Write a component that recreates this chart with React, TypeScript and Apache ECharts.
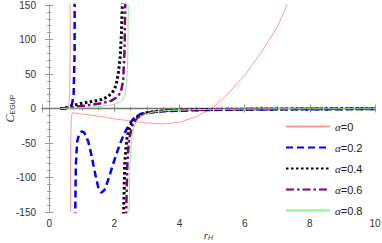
import React, { useEffect, useRef } from "react";
import * as echarts from "echarts";

// α = 0 (pink, thin solid)
const a0Left: [number, number][] = [[0.35, 0], [0.45, 0.3], [0.55, 1.5], [0.6, 5], [0.63, 20], [0.645, 80], [0.65, 400]];
const a0Right: [number, number][] = [[0.655, -400], [0.66, -60], [0.68, -12], [0.72, -6], [1.0, -8], [1.5, -11], [2.0, -15], [2.5, -18], [3.0, -21], [3.5, -22.5], [4.0, -20], [4.5, -12], [5.0, 0], [5.5, 22], [6.0, 48], [6.5, 81], [7.0, 118], [7.3, 150], [7.5, 180]];
// α = 0.2 (blue dashed)
const a2Left: [number, number][] = [[0.35, 0], [0.5, 0.5], [0.6, 2], [0.7, 6], [0.75, 20], [0.78, 80], [0.79, 400]];
const a2Right: [number, number][] = [[0.795, -400], [0.8, -150], [0.82, -80], [0.86, -48], [0.92, -37], [1.0, -33], [1.08, -35], [1.2, -48], [1.3, -68], [1.4, -92], [1.5, -113], [1.6, -122], [1.7, -118], [1.8, -105], [1.9, -90], [2.0, -75], [2.1, -61], [2.2, -48], [2.3, -37], [2.4, -28], [2.5, -20], [2.6, -14], [2.8, -8], [3.0, -6], [3.5, -4], [4.5, -2.5], [5.5, -1.7], [7, -1.2], [10, -0.8]];
// α = 0.4 (black dotted)
const a4Left: [number, number][] = [[0.35, 0], [0.5, 0.8], [0.6, 2], [0.8, 5], [1.0, 7.5], [1.3, 10], [1.6, 13], [1.8, 17], [1.95, 24], [2.05, 33], [2.12, 50], [2.18, 75], [2.22, 110], [2.25, 160], [2.265, 400]];
const a4Right: [number, number][] = [[2.27, -400], [2.285, -150], [2.32, -80], [2.38, -45], [2.45, -30], [2.55, -20], [2.7, -12], [2.9, -7], [3.2, -4.5], [3.6, -3], [4.2, -2], [5, -1.3], [7, -0.7], [10, -0.4]];
// α = 0.6 (purple dash-dot)
const a6Left: [number, number][] = [[0.35, 0], [0.6, 1], [0.8, 2], [1.0, 3.5], [1.3, 5.5], [1.6, 7.5], [1.9, 11], [2.1, 17], [2.2, 24], [2.27, 40], [2.31, 80], [2.335, 150], [2.35, 400]];
const a6Right: [number, number][] = [[2.355, -400], [2.365, -150], [2.4, -80], [2.45, -45], [2.55, -25], [2.7, -14], [2.9, -8], [3.2, -5], [3.6, -3], [4.2, -2], [5, -1.2], [7, -0.6], [10, -0.3]];
// α = 0.8 (light green thin)
const a8Left: [number, number][] = [[0.35, 0], [0.8, 0.8], [1.2, 1.8], [1.6, 3], [2.0, 6], [2.2, 10], [2.32, 18], [2.38, 35], [2.41, 70], [2.425, 130], [2.435, 400]];
const a8Right: [number, number][] = [[2.44, -400], [2.45, -150], [2.48, -80], [2.53, -45], [2.6, -28], [2.7, -17], [2.9, -9], [3.2, -5], [3.6, -3], [4.2, -2], [5, -1.1], [7, -0.5], [10, -0.3]];

const seriesNames = ["α=0", "α=0.2", "α=0.4", "α=0.6", "α=0.8"];
const xMin = -0.22;
const xMax = 10;
const yMin = -150;
const yMax = 150;
const zeroLine: [number, number][] = [[xMin, 0], [xMax, 0]];

function joinBranches(l: [number, number][], r: [number, number][]) {
  const gapX = (l[l.length - 1][0] + r[0][0]) / 2;
  return [...l, [gapX, "-"], ...r];
}

export default function App() {
  const ref = useRef<HTMLDivElement>(null);
  useEffect(() => {
    if (!ref.current) return;
    const chart = echarts.init(ref.current, undefined, { renderer: "svg" });
    const axisColor = "#999";
    const labelStyle = { color: "#333", fontSize: 10, fontFamily: "Liberation Sans, Arial, sans-serif" };
    const baseX = {
      type: "value" as const,
      min: xMin,
      max: xMax,
      splitNumber: 5,
      axisLine: { show: true, lineStyle: { color: axisColor, width: 1 } },
      axisTick: { show: true, inside: true, length: 4, lineStyle: { color: axisColor } },
      minorTick: { show: true, splitNumber: 4, length: 2, lineStyle: { color: axisColor } },
      splitLine: { show: false },
    };
    const baseY = {
      type: "value" as const,
      min: yMin,
      max: yMax,
      interval: 50,
      axisLine: { show: true, lineStyle: { color: axisColor, width: 1 } },
      axisTick: { show: true, inside: true, length: 4, lineStyle: { color: axisColor } },
      minorTick: { show: true, splitNumber: 5, length: 2, lineStyle: { color: axisColor } },
      splitLine: { show: false },
    };
    const mk = (name: string, data: any[], color: string, width: number, type: any) => ({
      name,
      type: "line" as const,
      data,
      symbol: "none",
      showSymbol: false,
      connectNulls: false,
      clip: true,
      lineStyle: { color, width, type },
      itemStyle: { color },
    });
    chart.setOption({
      animation: false,
      backgroundColor: "#fff",
      grid: { left: 42, right: 7, top: 5, bottom: 31, containLabel: false, outerBoundsMode: "none" },
      legend: {
        data: seriesNames,
        orient: "vertical",
        left: 280,
        top: 116,
        itemWidth: 44,
        itemHeight: 10,
        itemGap: 10,
        itemStyle: { opacity: 0, color: "transparent", borderWidth: 0 },
        textStyle: {
          color: "#222",
          fontSize: 11,
          fontFamily: "Liberation Sans, Arial, sans-serif",
          rich: { i: { fontStyle: "italic", fontSize: 11, color: "#222", fontFamily: "Liberation Serif, serif" } },
        },
        formatter: (name: string) => name.replace("α", "{i|α}"),
      },
      xAxis: [
        {
          ...baseX,
          position: "bottom",
          axisLabel: { ...labelStyle, showMinLabel: false, margin: 6 },
          name: "{r|r}{s|H}",
          nameLocation: "middle",
          nameGap: 17,
          nameMoveOverlap: false,
          nameTextStyle: {
            rich: {
              r: { fontStyle: "italic", fontSize: 11, color: "#333", fontFamily: "Liberation Serif, serif" },
              s: { fontStyle: "italic", fontSize: 7, color: "#333", padding: [5, 0, 0, 0], fontFamily: "Liberation Sans, sans-serif" },
            },
          },
        },
        { ...baseX, position: "top", axisLabel: { show: false } },
      ],
      yAxis: [
        {
          ...baseY,
          position: "left",
          axisLabel: { ...labelStyle, margin: 6 },
          name: "{c|C}{s|EGUP}",
          nameLocation: "middle",
          nameRotate: 90,
          nameGap: 26,
          nameMoveOverlap: false,
          nameTextStyle: {
            rich: {
              c: { fontStyle: "italic", fontSize: 12, color: "#333", fontFamily: "Liberation Serif, serif" },
              s: { fontSize: 7, color: "#333", padding: [5, 0, 0, 0], fontFamily: "Liberation Sans, sans-serif" },
            },
          },
        },
        { ...baseY, position: "right", axisLabel: { show: false } },
      ],
      series: [
        {
          name: "zero",
          type: "line",
          data: zeroLine,
          symbol: "none",
          lineStyle: { color: "#777", width: 1.5 },
          silent: true,
          z: 1,
        },
        mk(seriesNames[0], joinBranches(a0Left, a0Right), "#ff9a9a", 1, "solid"),
        mk(seriesNames[1], joinBranches(a2Left, a2Right), "#0000ff", 2.5, [7, 4]),
        mk(seriesNames[2], joinBranches(a4Left, a4Right), "#000000", 3, [2.5, 2.5]),
        mk(seriesNames[3], joinBranches(a6Left, a6Right), "#800080", 2.5, [8, 3, 2.5, 3]),
        mk(seriesNames[4], joinBranches(a8Left, a8Right), "#90ee90", 1, "solid"),
      ],
    });
    return () => chart.dispose();
  }, []);
  return <div ref={ref} style={{ width: 382, height: 243, position: "fixed", left: 0, top: 0 }} />;
}
